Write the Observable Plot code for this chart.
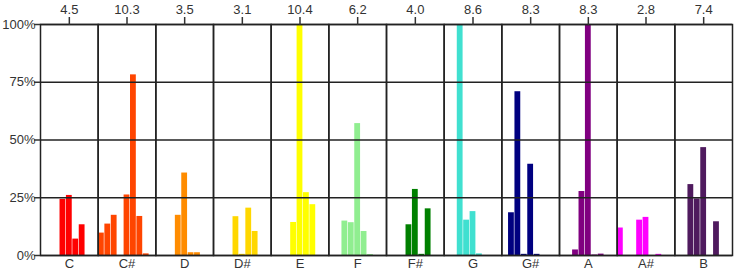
<!DOCTYPE html>
<html>
<head>
<meta charset="utf-8">
<script src="https://cdn.jsdelivr.net/npm/d3@7"></script>
<script src="https://cdn.jsdelivr.net/npm/@observablehq/plot@0.6"></script>
<style>
  html, body { margin: 0; padding: 0; background: #fff; }
</style>
</head>
<body>
<div id="chart"></div>
<script>
// Pitch classes (facets)
const pitches = ["C", "C#", "D", "D#", "E", "F", "F#", "G", "G#", "A", "A#", "B"];
// Top labels, one per pitch class
const totals = ["4.5", "10.3", "3.5", "3.1", "10.4", "6.2", "4.0", "8.6", "8.3", "8.3", "2.8", "7.4"];
// Bar colours, one per pitch class
const colors = ["#ff0000", "#ff4500", "#ff8c00", "#ffd700", "#ffff00", "#90ee90",
                "#008000", "#40e0d0", "#000080", "#800080", "#ff00ff", "#4f1a5e"];
// Octaves within each facet
const octaves = [0, 1, 2, 3, 4, 5, 6, 7, 8];
// Share (%) per octave, one list per pitch class
const valC  = [0, 0, 0, 24.3, 26.0, 7.1, 13.3, 0, 0];
const valCs = [9.7, 13.6, 17.4, 0, 26.2, 78.2, 16.9, 0.7, 0];
const valD  = [0, 0, 0, 17.4, 35.7, 1.2, 1.2, 0, 0];
const valDs = [0, 0, 0, 16.8, 0.5, 20.5, 10.4, 0, 0];
const valE  = [0, 0, 0, 14.3, 100, 27.2, 22.0, 0, 0];
const valF  = [0, 0, 14.9, 14.2, 57.1, 10.4, 0.4, 0, 0];
const valFs = [0, 0, 0, 13.3, 28.6, 0.5, 20.2, 0, 0];
const valG  = [0, 0, 100, 15.3, 19.0, 0.7, 0, 0, 0];
const valGs = [0, 18.5, 70.9, 0.5, 39.5, 0.5, 0, 0, 0];
const valA  = [0, 0, 2.4, 27.7, 100, 0.2, 0.6, 0, 0];
const valAs = [11.9, 0, 0, 15.3, 16.5, 0, 0.5, 0, 0];
const valB  = [0, 0, 30.7, 24.5, 46.7, 0, 14.6, 0, 0];
// y-axis ticks
const yTicks = [0, 25, 50, 75, 100];

const series = [valC, valCs, valD, valDs, valE, valF, valFs, valG, valGs, valA, valAs, valB];
const rows = pitches.flatMap((p, i) => series[i].map((v, k) => ({pitch: p, octave: octaves[k], value: v})));

const chart = Plot.plot({
  width: 734,
  height: 270,
  marginTop: 24,
  marginBottom: 15,
  marginLeft: 40,
  marginRight: 2,
  style: {fontFamily: "'Liberation Sans', Arial, sans-serif", fontSize: "13px", color: "#333", background: "#fff"},
  fx: {domain: pitches, padding: 0, round: false, axis: null},
  x: {domain: octaves, padding: 0, round: false, axis: null},
  y: {domain: [0, 100], axis: null},
  color: {domain: pitches, range: colors},
  marks: [
    Plot.barY(rows, {fx: "pitch", x: "octave", y: "value", fill: "pitch", insetLeft: 0.3, insetRight: 0.3}),
    Plot.gridY(yTicks, {stroke: "#222", strokeOpacity: 1, strokeWidth: 1.5}),
    Plot.frame({stroke: "#222", strokeWidth: 1.5}),
    Plot.axisFx({anchor: "top", tickFormat: (p) => totals[pitches.indexOf(p)], tickSize: 8, tickPadding: 3, strokeWidth: 1.5, label: null}),
    Plot.axisFx({anchor: "bottom", tickSize: 0, tickPadding: 3, label: null}),
    Plot.axisY(yTicks, {tickFormat: (d) => d + "%", tickSize: 6, tickPadding: -1, strokeWidth: 1.5, label: null})
  ]
});
document.getElementById("chart").appendChild(chart);
</script>
</body>
</html>
